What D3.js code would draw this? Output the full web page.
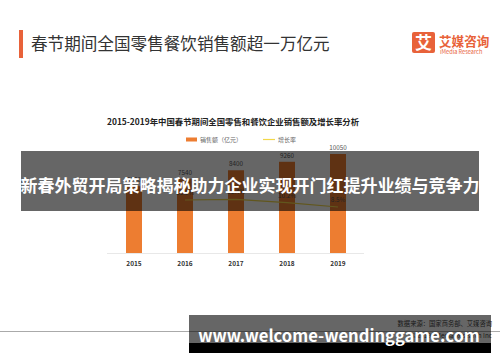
<!DOCTYPE html>
<meta charset="utf-8">
<script src="https://d3js.org/d3.v7.min.js"></script>
<style>
  body { margin: 0; background: #fff; }
  text { font-family: "Noto Sans CJK SC", "Noto Sans", sans-serif; }
</style>
<body>
<svg id="chart" width="500" height="362"></svg>
<script>
var years = ["2015", "2016", "2017", "2018", "2019"];
var sales = [6780, 7540, 8400, 9260, 10050];
var growth = [null, 11.2, 11.4, 10.2, 8.5];

var pageTitle = "春节期间全国零售餐饮销售额超一万亿元";
var chartTitle = "2015-2019年中国春节期间全国零售和餐饮企业销售额及增长率分析";
var legendNames = ["销售额（亿元）", "增长率"];
var bannerText = "新春外贸开局策略揭秘助力企业实现开门红提升业绩与竞争力";
var urlText = "www.welcome-wendinggame.com";
var sourceText = "数据来源：国家商务部、艾媒咨询";
var copyText = "©2019 iiMedia Research Inc";

var orange = "#ed7d31", brand = "#e8623a";

var svg = d3.select("#chart");
svg.append("rect").attr("width", 500).attr("height", 362).attr("fill", "#fff");

// page header
svg.append("rect").attr("x", 19).attr("y", 30).attr("width", 4).attr("height", 28).attr("fill", brand);
svg.append("text").attr("x", 31).attr("y", 50)
    .attr("font-size", 16.6).attr("fill", "#333").text(pageTitle);

// logo
svg.append("rect").attr("x", 412).attr("y", 32).attr("width", 23).attr("height", 21)
    .attr("rx", 2).attr("fill", brand);
svg.append("text").attr("x", 423.5).attr("y", 49).attr("text-anchor", "middle")
    .attr("font-size", 17).attr("font-weight", "bold").attr("fill", "#fff").text("艾");
svg.append("text").attr("x", 439).attr("y", 46)
    .attr("font-size", 12.6).attr("font-weight", "bold").attr("fill", brand).text("艾媒咨询");
svg.append("text").attr("x", 440).attr("y", 54)
    .attr("font-size", 5.6).attr("fill", brand).attr("font-family", "Open Sans")
    .text("iMedia Research");

// chart
svg.append("text").attr("x", 107).attr("y", 125)
    .attr("font-size", 8.4).attr("font-weight", "bold").attr("fill", "#222").text(chartTitle);

// legend
svg.append("rect").attr("x", 186).attr("y", 137.5).attr("width", 11).attr("height", 4).attr("fill", orange);
svg.append("text").attr("x", 200).attr("y", 142).attr("font-size", 6).attr("fill", "#666").text(legendNames[0]);
svg.append("line").attr("x1", 263).attr("x2", 275).attr("y1", 139.5).attr("y2", 139.5)
    .attr("stroke", "#f2d84a").attr("stroke-width", 1.2);
svg.append("text").attr("x", 278).attr("y", 142).attr("font-size", 6).attr("fill", "#666").text(legendNames[1]);

var x = d3.scalePoint().domain(years).range([134, 338]);
var y = d3.scaleLinear().domain([0, 12000]).range([253, 134.8]);
var y2 = d3.scaleLinear().domain([0, 40]).range([229, 125.4]);
var barW = 16;

svg.append("line").attr("x1", 107).attr("x2", 364).attr("y1", 253.5).attr("y2", 253.5)
    .attr("stroke", "#e8e8e8").attr("stroke-width", 1);

svg.selectAll(".bar").data(sales).enter().append("rect")
    .attr("class", "bar")
    .attr("x", function(d, i) { return x(years[i]) - barW / 2; })
    .attr("y", function(d) { return y(d); })
    .attr("width", barW)
    .attr("height", function(d) { return y(0) - y(d); })
    .attr("fill", orange);

svg.selectAll(".val").data(sales).enter().append("text")
    .attr("x", function(d, i) { return x(years[i]); })
    .attr("y", function(d) { return y(d) - 4; })
    .attr("text-anchor", "middle").attr("font-size", 6.3).attr("fill", "#555")
    .attr("font-family", "Open Sans")
    .text(function(d) { return d; });

svg.selectAll(".yr").data(years).enter().append("text")
    .attr("x", function(d) { return x(d); })
    .attr("y", 266)
    .attr("text-anchor", "middle").attr("font-size", 6.5).attr("font-weight", "bold").attr("fill", "#333")
    .attr("font-family", "Open Sans")
    .text(function(d) { return d; });

var gData = growth.map(function(g, i) { return {year: years[i], g: g}; })
    .filter(function(d) { return d.g != null; });

svg.append("path").datum(gData)
    .attr("fill", "none").attr("stroke", "#f2d84a").attr("stroke-width", 1.2)
    .attr("d", d3.line().x(function(d) { return x(d.year); }).y(function(d) { return y2(d.g); }));

svg.selectAll(".gl").data(gData).enter().append("text")
    .attr("x", function(d) { return x(d.year); })
    .attr("y", function(d) { return y2(d.g) - 5; })
    .attr("text-anchor", "middle").attr("font-size", 6.3).attr("fill", "#555")
    .attr("font-family", "Open Sans")
    .text(function(d) { return d.g + "%"; });

// footer source
svg.append("line").attr("x1", 0).attr("x2", 500).attr("y1", 331.5).attr("y2", 331.5)
    .attr("stroke", "#aaa").attr("stroke-width", 1);
svg.append("text").attr("x", 492).attr("y", 326).attr("text-anchor", "end")
    .attr("font-size", 6.3).attr("fill", "#444").text(sourceText);
svg.append("text").attr("x", 492).attr("y", 338).attr("text-anchor", "end")
    .attr("font-size", 6.3).attr("fill", "#444").attr("font-family", "Open Sans").text(copyText);

// overlay banner
svg.append("rect").attr("x", 21).attr("y", 151).attr("width", 458).attr("height", 60)
    .attr("fill", "#000").attr("fill-opacity", 0.6);
svg.append("text").attr("x", 250).attr("y", 192).attr("text-anchor", "middle")
    .attr("font-size", 17).attr("font-weight", "bold").attr("fill", "#fff").text(bannerText);

// url banner
svg.append("rect").attr("x", 189).attr("y", 315).attr("width", 302).attr("height", 28)
    .attr("fill", "#000").attr("fill-opacity", 0.6);
svg.append("rect").attr("x", 189).attr("y", 343).attr("width", 302).attr("height", 10)
    .attr("fill", "#000");
svg.append("text").attr("x", 339).attr("y", 342).attr("text-anchor", "middle")
    .attr("font-size", 16.6).attr("font-weight", "bold").attr("fill", "#fff")
    .attr("font-family", "Open Sans").text(urlText);
</script>
</body>
